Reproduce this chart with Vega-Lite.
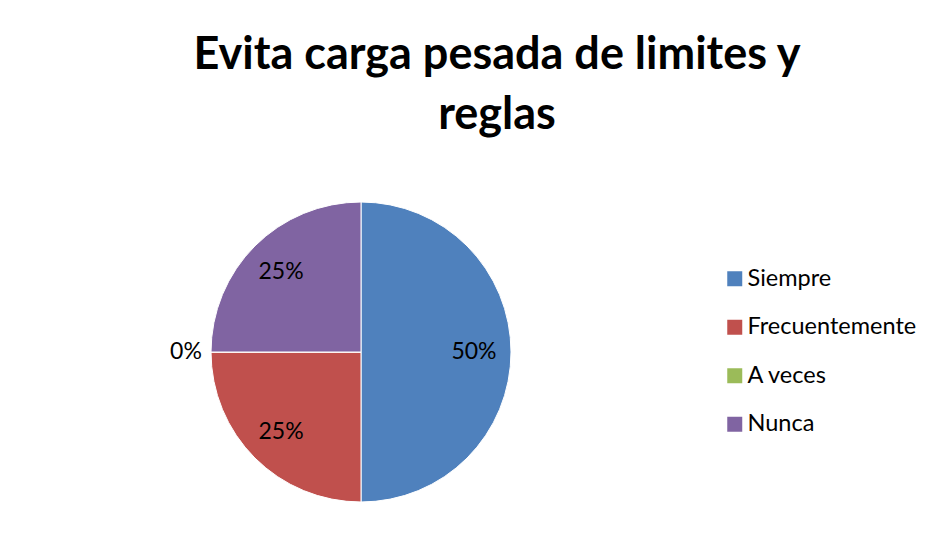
{
  "$schema": "https://vega.github.io/schema/vega-lite/v6.json",
  "width": 300,
  "height": 300,
  "autosize": {"type": "none"},
  "padding": {"left": 211, "top": 202, "right": 433, "bottom": 52},
  "background": "white",
  "config": {"view": {"stroke": null}, "font": "Lato"},
  "title": {
    "text": ["Evita carga pesada de limites  y", "reglas"],
    "font": "Lato",
    "fontSize": 45,
    "fontWeight": "bold",
    "color": "black",
    "lineHeight": 60,
    "anchor": "middle",
    "dx": 136,
    "offset": 62
  },
  "data": {
    "values": [
      {"categoria": "Siempre", "valor": 0.5, "orden": 1},
      {"categoria": "Frecuentemente", "valor": 0.25, "orden": 2},
      {"categoria": "A veces", "valor": 0.0, "orden": 3},
      {"categoria": "Nunca", "valor": 0.25, "orden": 4}
    ]
  },
  "encoding": {
    "theta": {"field": "valor", "type": "quantitative", "stack": true},
    "order": {"field": "orden", "type": "quantitative"}
  },
  "layer": [
    {
      "mark": {"type": "arc", "outerRadius": 150, "stroke": "white", "strokeWidth": 1},
      "encoding": {
        "color": {
          "field": "categoria",
          "type": "nominal",
          "scale": {
            "domain": ["Siempre", "Frecuentemente", "A veces", "Nunca"],
            "range": ["#4F81BD", "#C0504D", "#9BBB59", "#8064A2"]
          },
          "legend": {
            "title": null,
            "orient": "none",
            "legendX": 512,
            "legendY": 65,
            "padding": 0,
            "symbolType": "square",
            "symbolSize": 225,
            "symbolStrokeWidth": 0,
            "labelFontSize": 23.5,
            "labelFont": "Lato",
            "labelColor": "black",
            "labelOffset": 1,
            "labelLimit": 400,
            "rowPadding": 23.5
          }
        }
      }
    },
    {
      "mark": {"type": "text", "radius": 113, "fontSize": 23, "font": "Lato", "color": "black"},
      "encoding": {
        "text": {
          "condition": {"test": "datum.valor == 0", "value": ""},
          "field": "valor", "type": "quantitative", "format": ".0%"
        }
      }
    },
    {
      "mark": {"type": "text", "radius": 175, "fontSize": 23, "font": "Lato", "color": "black"},
      "encoding": {
        "text": {
          "condition": {"test": "datum.valor > 0", "value": ""},
          "field": "valor", "type": "quantitative", "format": ".0%"
        }
      }
    }
  ]
}
